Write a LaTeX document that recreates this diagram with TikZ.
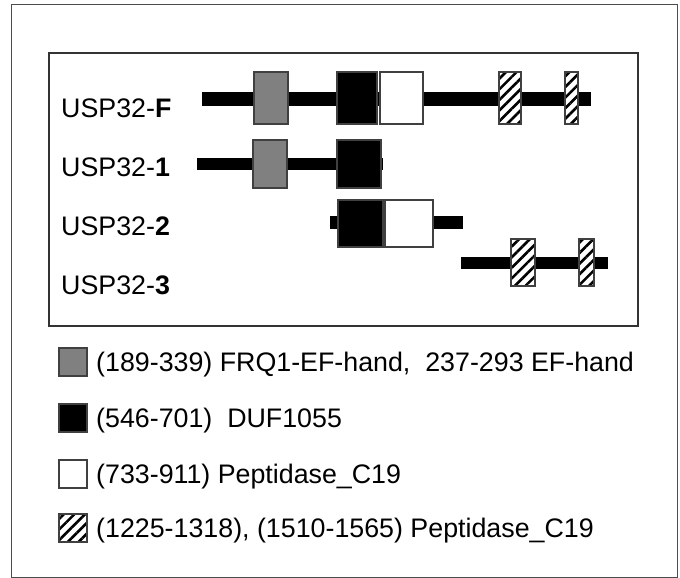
\documentclass[tikz,border=0pt]{standalone}
\usepackage{fontspec}
\setmainfont{Liberation Sans}
\usetikzlibrary{patterns, patterns.meta}

\begin{document}
\begin{tikzpicture}[x=1pt, y=-1pt,
    bar/.style={fill=black},
    dom/.style={draw=black!75, line width=1.2pt},
    frq/.style={dom, fill=black!50},
    duf/.style={dom, fill=black},
    pep/.style={dom, fill=white},
    hat/.style={dom, preaction={fill=white}, pattern={Lines[angle=45, distance=7.5pt, line width=2.6pt]}},
    lbl/.style={anchor=base west, inner sep=0pt, font=\fontsize{26.8}{32}\selectfont}]
            \useasboundingbox (0,0) rectangle (680,578);
            % Frames
            \draw[black!70, line width=1pt] (11,5) rectangle (677,577);
            \draw[black!80, line width=1.2pt] (49,53) rectangle (638,326);

            % USP32-F
            \node[lbl] (labF) at (61,117) {USP32-\textbf{F}};
            \fill[bar] (202,92) rectangle (591,106);
            \draw[frq] (254,72) rectangle (288,124);
            \draw[duf] (337,72) rectangle (377,124);
            \draw[pep] (380,72) rectangle (423,124);
            \draw[hat] (499,72) rectangle (521,124);
            \draw[hat] (565,72) rectangle (578,124);

            % USP32-1
            \node[lbl] (lab1) at (61,176) {USP32-\textbf{1}};
            \fill[bar] (197,158) rectangle (383,170);
            \draw[frq] (253,140) rectangle (287,188);
            \draw[duf] (337,140) rectangle (381,188);

            % USP32-2
            \node[lbl] (lab2) at (61,235) {USP32-\textbf{2}};
            \fill[bar] (330,216) rectangle (463,229);
            \draw[duf] (338,200) rectangle (383,247);
            \draw[pep] (385,200) rectangle (433,247);

            % USP32-3
            \node[lbl] (lab3) at (61,294) {USP32-\textbf{3}};
            \fill[bar] (461,257) rectangle (608,269);
            \draw[hat] (511,239) rectangle (535,286);
            \draw[hat] (579,239) rectangle (594,286);

            % Legend
            \draw[frq] (59,348) rectangle (87,376);
            \node[lbl] (keyFrq) at (96,371) {(189-339) FRQ1-EF-hand,\ \ 237-293 EF-hand};
            \draw[duf] (59,404) rectangle (87,432);
            \node[lbl] (keyDuf) at (96,427) {(546-701)\ \ DUF1055};
            \draw[pep] (59,460) rectangle (87,488);
            \node[lbl] (keyPep) at (96,483) {(733-911) Peptidase\_C19};
            \draw[hat] (59,514) rectangle (87,542);
            \node[lbl] (keyHat) at (96,537) {(1225-1318), (1510-1565) Peptidase\_C19};
        \end{tikzpicture}
\end{document}
